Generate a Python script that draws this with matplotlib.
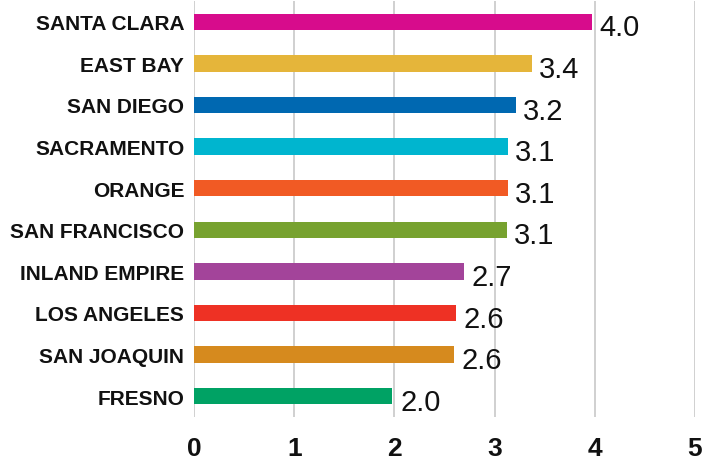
import matplotlib
matplotlib.use("Agg")
import matplotlib.pyplot as plt

categories = ["SANTA CLARA", "EAST BAY", "SAN DIEGO", "SACRAMENTO", "ORANGE",
              "SAN FRANCISCO", "INLAND EMPIRE", "LOS ANGELES", "SAN JOAQUIN", "FRESNO"]
values = [3.97, 3.37, 3.21, 3.13, 3.13, 3.12, 2.69, 2.61, 2.59, 1.98]
colors = ["#D70C8C", "#E5B53A", "#0068B1", "#00B5CF", "#F15A24",
          "#77A22F", "#A3449A", "#EE3124", "#D68A1E", "#00A264"]
xticks = [0, 1, 2, 3, 4, 5]

plt.rcParams['font.family'] = ['Liberation Sans', 'DejaVu Sans']

fig = plt.figure(figsize=(7.02, 4.60), dpi=100)
ax = fig.add_axes([194/702, 1 - 418/460, (695 - 194)/702, 416/460])

y = list(range(len(categories)))
ax.barh(y, values, height=0.39, color=colors, zorder=3)
for yi, v in zip(y, values):
    ax.annotate(f"{v:.1f}", (v, yi), xytext=(5.5, -4), textcoords="offset points",
                ha="left", va="center", fontsize=21, color="#111111", zorder=4)

ax.set_ylim(9.5, -0.5)
ax.set_xlim(0, 5)
ax.set_yticks(y)
ax.set_yticklabels(categories, fontsize=15, fontweight="bold", color="#111111")
ax.set_xticks(xticks)
ax.set_xticklabels([str(t) for t in xticks], fontsize=19, fontweight="bold", color="#111111")
ax.tick_params(axis="y", length=0, pad=7)
ax.tick_params(axis="x", length=0, pad=14)
ax.xaxis.grid(True, color="#c8c8c8", linewidth=1.2, zorder=0)
ax.yaxis.grid(False)
for s in ax.spines.values():
    s.set_visible(False)

fig.savefig("out.png", dpi=100)
